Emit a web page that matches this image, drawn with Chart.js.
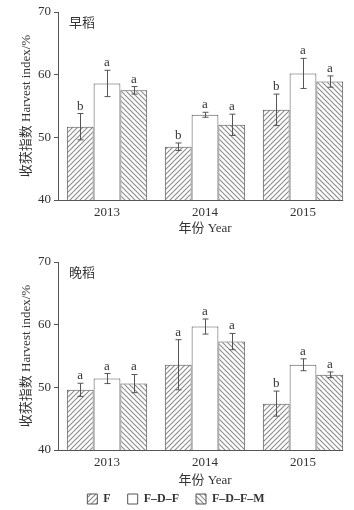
<!DOCTYPE html>
<html>
<head>
<meta charset="utf-8">
<script src="https://cdn.jsdelivr.net/npm/chart.js@4.4.0/dist/chart.umd.min.js"></script>
<style>
html, body { margin: 0; background: #fff; overflow: hidden; }
.box { position: absolute; left: 0; width: 354px; }
#topBox { top: 0; height: 245px; }
#botBox { top: 250px; height: 265px; }
</style>
</head>
<body>
<div class="box" id="topBox"><canvas id="earlyChart"></canvas></div>
<div class="box" id="botBox"><canvas id="lateChart"></canvas></div>
<script>
// categories / series
const years = ['2013', '2014', '2015'];
const seriesNames = ['F', 'F\u2013D\u2013F', 'F\u2013D\u2013F\u2013M'];
const yTicks = [40, 50, 60, 70];

// 早稻 (early rice)
const earlyF = [51.7, 48.5, 54.4];
const earlyFDF = [58.6, 53.6, 60.2];
const earlyFDFM = [57.5, 52.0, 58.9];
const earlyErrF = [2.1, 0.6, 2.5];
const earlyErrFDF = [2.1, 0.4, 2.4];
const earlyErrFDFM = [0.6, 1.7, 0.9];
const earlyLetF = ['b', 'b', 'b'];
const earlyLetFDF = ['a', 'a', 'a'];
const earlyLetFDFM = ['a', 'a', 'a'];

// 晚稻 (late rice)
const lateF = [49.6, 53.6, 47.4];
const lateFDF = [51.4, 59.7, 53.6];
const lateFDFM = [50.6, 57.3, 52.0];
const lateErrF = [1.05, 4.0, 2.0];
const lateErrFDF = [0.8, 1.2, 0.95];
const lateErrFDFM = [1.45, 1.3, 0.45];
const lateLetF = ['a', 'a', 'b'];
const lateLetFDF = ['a', 'a', 'a'];
const lateLetFDFM = ['a', 'a', 'a'];

const serif = "'Liberation Serif', 'DejaVu Serif', serif";
const serifCJK = "'Liberation Serif', 'Noto Sans CJK SC', serif";
const ink = '#333';
const edge = '#555';

// diagonal hatch pattern, dir 1 = '/', -1 = '\'
function hatch(dir) {
    const s = 5;
    const c = document.createElement('canvas');
    c.width = s; c.height = s;
    const g = c.getContext('2d');
    g.fillStyle = '#fff';
    g.fillRect(0, 0, s, s);
    g.strokeStyle = '#8c8c8c';
    g.lineWidth = 1.1;
    g.beginPath();
    if (dir > 0) {
        g.moveTo(0, s); g.lineTo(s, 0);
        g.moveTo(-1, 1); g.lineTo(1, -1);
        g.moveTo(s - 1, s + 1); g.lineTo(s + 1, s - 1);
    } else {
        g.moveTo(0, 0); g.lineTo(s, s);
        g.moveTo(-1, s - 1); g.lineTo(1, s + 1);
        g.moveTo(s - 1, -1); g.lineTo(s + 1, 1);
    }
    g.stroke();
    return g.createPattern(c, 'repeat');
}
const patF = hatch(1);
const patFDFM = hatch(-1);

// error bars, significance letters, panel label, bottom axis line
const extras = {
    id: 'extras',
    afterDatasetsDraw(chart, args, opts) {
        const ctx = chart.ctx;
        const y = chart.scales.y;
        const area = chart.chartArea;
        ctx.save();
        let lastRight = area.left;
        chart.data.datasets.forEach((ds, i) => {
            const meta = chart.getDatasetMeta(i);
            meta.data.forEach((bar, j) => {
                const v = ds.data[j], e = ds.errors[j];
                const top = y.getPixelForValue(v + e);
                const bot = y.getPixelForValue(v - e);
                const x = Math.round(bar.x) + 0.5;
                ctx.strokeStyle = edge;
                ctx.lineWidth = 1;
                ctx.beginPath();
                ctx.moveTo(x, top); ctx.lineTo(x, bot);
                ctx.moveTo(x - 3, top); ctx.lineTo(x + 3, top);
                ctx.moveTo(x - 3, bot); ctx.lineTo(x + 3, bot);
                ctx.stroke();
                ctx.fillStyle = ink;
                ctx.font = '13px ' + serif;
                ctx.textAlign = 'center';
                ctx.textBaseline = 'alphabetic';
                ctx.fillText(ds.letters[j], bar.x, top - 4);
                lastRight = Math.max(lastRight, bar.x + bar.width / 2);
            });
        });
        // x axis line up to end of last group
        ctx.strokeStyle = edge;
        ctx.lineWidth = 1;
        ctx.beginPath();
        ctx.moveTo(area.left, Math.round(area.bottom) + 0.5);
        ctx.lineTo(lastRight, Math.round(area.bottom) + 0.5);
        ctx.stroke();
        // panel label
        ctx.fillStyle = ink;
        ctx.font = '13px ' + serifCJK;
        ctx.textAlign = 'left';
        ctx.textBaseline = 'middle';
        ctx.fillText(opts.text, area.left + 11, area.top + 12);
        ctx.restore();
    }
};

function makeChart(id, label, dF, dFDF, dFDFM, eF, eFDF, eFDFM, lF, lFDF, lFDFM, withLegend) {
    const ctx = document.getElementById(id).getContext('2d');
    // with the legend below, the x scale box is kept short and its title hangs lower
    const xHeight = withLegend ? 26 : 45;
    const xTitlePad = withLegend ? -12 : 9;
    return new Chart(ctx, {
        type: 'bar',
        data: {
            labels: years,
            datasets: [
                { label: seriesNames[0], data: dF, errors: eF, letters: lF, backgroundColor: patF, borderColor: edge, borderWidth: 1 },
                { label: seriesNames[1], data: dFDF, errors: eFDF, letters: lFDF, backgroundColor: '#fff', borderColor: edge, borderWidth: 1 },
                { label: seriesNames[2], data: dFDFM, errors: eFDFM, letters: lFDFM, backgroundColor: patFDFM, borderColor: edge, borderWidth: 1 }
            ]
        },
        options: {
            responsive: true,
            maintainAspectRatio: false,
            animation: false,
            datasets: { bar: { categoryPercentage: 0.82, barPercentage: 1.0 } },
            layout: { padding: { top: 12, right: 2, left: 0, bottom: 0 } },
            plugins: {
                legend: {
                    display: withLegend,
                    position: 'bottom',
                    labels: {
                        boxWidth: 10,
                        boxHeight: 10,
                        padding: 17,
                        color: ink,
                        font: { family: serif, size: 12, weight: 'bold' }
                    }
                },
                tooltip: { enabled: false },
                extras: { text: label }
            },
            scales: {
                x: {
                    offset: true,
                    grid: { display: false, drawTicks: false, tickLength: 0 },
                    border: { display: false },
                    ticks: { color: ink, padding: 5, font: { family: serif, size: 13 } },
                    title: {
                        display: true,
                        text: '年份 Year',
                        color: ink,
                        font: { family: serifCJK, size: 13 },
                        padding: { top: 0, bottom: xTitlePad }
                    },
                    afterFit: s => { s.height = xHeight; }
                },
                y: {
                    min: 40,
                    max: 70,
                    afterBuildTicks: s => { s.ticks = yTicks.map(v => ({ value: v })); },
                    ticks: { color: ink, padding: 3, font: { family: serif, size: 13 } },
                    grid: { display: true, drawOnChartArea: false, drawTicks: true, tickLength: 4, color: edge },
                    border: { display: true, color: edge, width: 1 },
                    title: {
                        display: true,
                        text: '收获指数 Harvest index/%',
                        color: ink,
                        font: { family: serifCJK, size: 13 },
                        padding: { top: 19, bottom: 0 }
                    },
                    afterFit: s => { s.width = 58; }
                }
            }
        },
        plugins: [extras]
    });
}

makeChart('earlyChart', '早稻', earlyF, earlyFDF, earlyFDFM, earlyErrF, earlyErrFDF, earlyErrFDFM, earlyLetF, earlyLetFDF, earlyLetFDFM, false);
makeChart('lateChart', '晚稻', lateF, lateFDF, lateFDFM, lateErrF, lateErrFDF, lateErrFDFM, lateLetF, lateLetFDF, lateLetFDFM, true);
</script>
</body>
</html>
